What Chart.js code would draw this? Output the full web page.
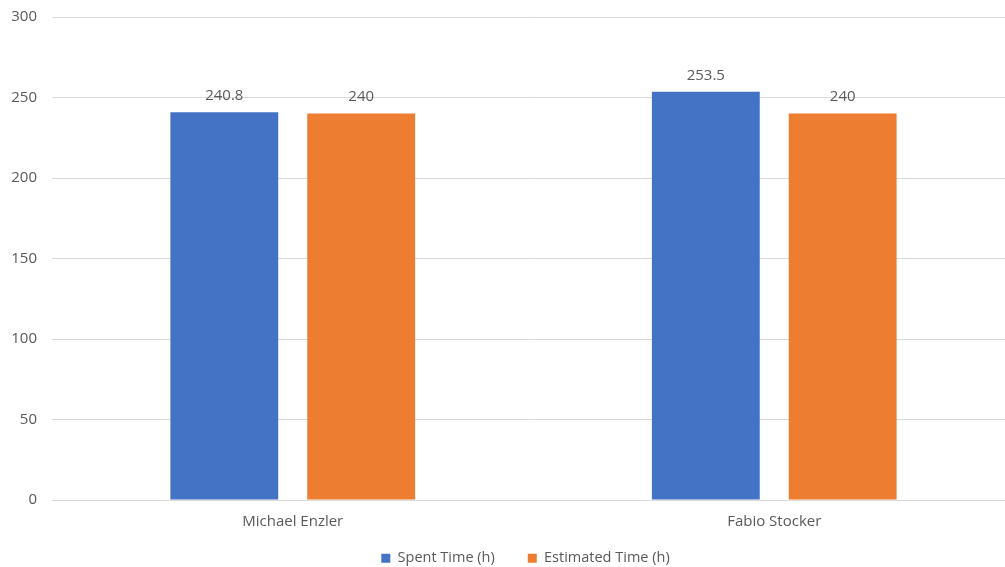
<!DOCTYPE html>
<html>
<head>
<meta charset="utf-8">
<script src="https://cdn.jsdelivr.net/npm/chart.js@4/dist/chart.umd.min.js"></script>
<style>
  html, body { margin: 0; padding: 0; background: #fff; overflow: hidden; }
  #wrap { width: 1015px; height: 567px; }
</style>
</head>
<body>
<div id="wrap"><canvas id="myChart"></canvas></div>
<script>
const ctx = document.getElementById("myChart");

const people = ["Michael Enzler", "Fabio Stocker"];
const spentTime = [240.8, 253.5];
const estimatedTime = [240, 240];
const yTicks = [0, 50, 100, 150, 200, 250, 300];

const textColor = "#595959";
const gridColor = "#d9d9d9";
const fontFamily = "'Open Sans', sans-serif";

// draws the value above each bar
const barLabels = {
  id: "barLabels",
  afterDatasetsDraw(chart) {
    const c = chart.ctx;
    c.save();
    c.font = "15px " + fontFamily;
    c.fillStyle = textColor;
    c.textAlign = "center";
    c.textBaseline = "bottom";
    chart.data.datasets.forEach((ds, i) => {
      chart.getDatasetMeta(i).data.forEach((bar, j) => {
        c.fillText(String(ds.data[j]), bar.x, bar.y - 9);
      });
    });
    c.restore();
  },
};

// legend keeps a wide gap between items but only takes a thin strip at the bottom
const legendNudge = {
  id: "legendNudge",
  beforeLayout(chart) {
    const lg = chart.legend;
    if (lg && !lg._slim) {
      const fit = lg.fit.bind(lg);
      lg.fit = function () {
        fit();
        this.height = 31;
      };
      lg._slim = true;
    }
  },
  afterLayout(chart) {
    const lg = chart.legend;
    lg.top -= 18;
    lg.bottom = chart.height;
    lg.left += 18;
    lg.right += 18;
  },
};

const data = {
  labels: people,
  datasets: [
    {
      label: "Spent Time (h)",
      data: spentTime,
      backgroundColor: "#4472c4",
    },
    {
      label: "Estimated Time (h)",
      data: estimatedTime,
      backgroundColor: "#ed7d31",
    },
  ],
};

const options = {
  responsive: true,
  maintainAspectRatio: false,
  animation: false,
  layout: { autoPadding: false, padding: { top: 17, right: 0, left: 0, bottom: 0 } },
  datasets: {
    bar: { categoryPercentage: 0.5685, barPercentage: 0.788 },
  },
  plugins: {
    legend: {
      position: "bottom",
      labels: {
        color: textColor,
        font: { family: fontFamily, size: 14.5 },
        boxWidth: 9,
        boxHeight: 9,
        padding: 33,
      },
    },
    tooltip: { enabled: false },
  },
  scales: {
    x: {
      afterFit(scale) { scale.height = 36; },
      grid: { display: false, drawTicks: false },
      border: { color: gridColor },
      ticks: {
        color: textColor,
        padding: 13,
        font: { family: fontFamily, size: 15 },
      },
    },
    y: {
      min: 0,
      max: 300,
      afterFit(scale) {
        scale.width = 52;
        scale.paddingTop = 0;
        scale.paddingBottom = 0;
      },
      afterBuildTicks(scale) { scale.ticks = yTicks.map((v) => ({ value: v })); },
      grid: { color: gridColor, drawTicks: false },
      border: { display: false },
      ticks: {
        color: textColor,
        padding: 15,
        font: { family: fontFamily, size: 15 },
      },
    },
  },
};

const config = {
  type: "bar",
  data,
  options,
  plugins: [barLabels, legendNudge],
};

const myBarChart = new Chart(ctx, config);
</script>
</body>
</html>
